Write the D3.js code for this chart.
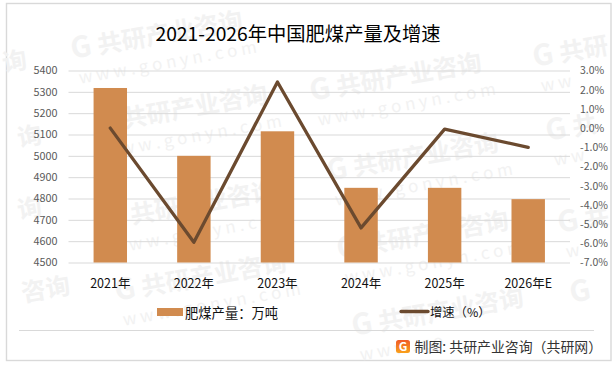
<!DOCTYPE html>
<html><head><meta charset="utf-8">
<script src="https://cdnjs.cloudflare.com/ajax/libs/d3/7.8.5/d3.min.js"></script>
<style>html,body{margin:0;padding:0;background:#fff}svg{display:block}text{font-family:"Noto Sans CJK SC","Noto Sans",sans-serif}</style>
</head><body><svg id="c" width="616" height="367"></svg>
<script>
const categories=["2021年","2022年","2023年","2024年","2025年","2026年E"];
const output=[5318,5000,5115,4850,4850,4797];
const growth=[0.0,-5.95,2.4,-5.2,-0.05,-1.0];
const leftTicks=[4500,4600,4700,4800,4900,5000,5100,5200,5300,5400];
const rightTicks=[-7,-6,-5,-4,-3,-2,-1,0,1,2,3];
const title="2021-2026年中国肥煤产量及增速";
const barName="肥煤产量：万吨", lineName="增速（%）", source="制图: 共研产业咨询（共研网）";
const wmBrand="共研产业咨询", wmSite="w w w . g o n y n . c o m";

const svg=d3.select("#c");
const L=68.5,R=570,T=70.5,B=262.5;
const x=d3.scaleBand().domain(categories).range([L,R]).paddingInner(0.6).paddingOuter(0.3);
const yL=d3.scaleLinear().domain([4500,5400]).range([B,T]);
const yR=d3.scaleLinear().domain([-7,3]).range([B,T]);

svg.append("rect").attr("x",6.5).attr("y",3.5).attr("width",604.5).attr("height",357).attr("fill","#fff").attr("stroke","#d9d9d9").attr("stroke-width",1.4);

// watermarks: full ones placed where the reference has them; ones at the edge use only the visible characters
const wm=svg.append("g");
function mark(px,py,chars,site,logo){
  const g=wm.append("g").attr("transform",`translate(${px},${py}) rotate(-10)`);
  if(logo) g.append("text").attr("x",-27).attr("y",0).attr("font-size",29).attr("font-weight",700).attr("fill","#f3f3f3").text("G");
  if(chars) g.append("text").attr("x",0).attr("y",0).attr("font-size",24.5).attr("font-weight",700).attr("fill","#f2f2f2").text(chars);
  if(site) g.append("text").attr("x",-24).attr("y",26).attr("font-size",17).attr("fill","#f2f2f2").text(site);
}
mark(99,54,wmBrand,wmSite,true);
mark(124,128,wmBrand,wmSite,true);
mark(338,96,wmBrand,wmSite,true);
mark(355,176,wmBrand,wmSite,true);
mark(132,224,wmBrand,wmSite,true);
mark(143,296,wmBrand,wmSite,true);
mark(365,254,wmBrand,wmSite,true);
mark(380,331,wmBrand,"w w w . g o",true);
mark(561,62,"共研","w w",true);
mark(574,136,"共","w w",true);
mark(586,228,"共","w",true);
mark(598,298,"","",true);
mark(4,72,"询","",false);
mark(19,147,"询","",false);
mark(19,219,"询","",false);
mark(23,302,"咨询","",false);

// grid
svg.append("g").attr("transform",`translate(${L},0)`)
 .call(d3.axisLeft(yL).tickValues(leftTicks).tickSize(-(R-L)).tickFormat(d=>d).tickPadding(11))
 .call(g=>g.select(".domain").remove())
 .call(g=>g.selectAll("line").attr("stroke","#d9d9d9"))
 .call(g=>g.selectAll("text").attr("fill","#595959").attr("font-size",10.8));

svg.append("g").selectAll("rect").data(output).join("rect")
 .attr("x",(d,i)=>x(categories[i])).attr("width",x.bandwidth())
 .attr("y",d=>yL(d)).attr("height",d=>B-yL(d)).attr("fill","#d18b4f");

const cx=i=>x(categories[i])+x.bandwidth()/2;
svg.append("path").datum(growth)
 .attr("d",d3.line().x((d,i)=>cx(i)).y(d=>yR(d)))
 .attr("fill","none").attr("stroke","#6b4a2f").attr("stroke-width",3.3).attr("stroke-linecap","round").attr("stroke-linejoin","round");

svg.append("g").attr("transform",`translate(${R},0)`)
 .call(d3.axisRight(yR).tickValues(rightTicks).tickSize(0).tickPadding(10).tickFormat(d=>d.toFixed(1)+"%"))
 .call(g=>g.select(".domain").remove())
 .call(g=>g.selectAll("text").attr("fill","#595959").attr("font-size",10.5));

svg.append("g").selectAll("text").data(categories).join("text")
 .attr("x",(d,i)=>cx(i)).attr("y",288).attr("text-anchor","middle").attr("font-size",12.5).attr("fill","#111").text(d=>d);

svg.append("text").attr("x",298).attr("y",41).attr("text-anchor","middle").attr("font-size",19.3).attr("fill","#000").text(title);

// legend
svg.append("rect").attr("x",157).attr("y",308).attr("width",26).attr("height",8).attr("fill","#d18b4f");
svg.append("text").attr("x",185).attr("y",317.5).attr("font-size",13.3).attr("fill","#111").text(barName);
svg.append("line").attr("x1",401).attr("x2",428).attr("y1",311.5).attr("y2",311.5).attr("stroke","#6b4a2f").attr("stroke-width",3.3).attr("stroke-linecap","round");
svg.append("text").attr("x",430).attr("y",316.5).attr("font-size",12.3).attr("fill","#111").text(lineName);

// footer
svg.append("line").attr("x1",19).attr("x2",594).attr("y1",330.5).attr("y2",330.5).attr("stroke","#d9d9d9").attr("stroke-width",1.2);
const defs=svg.append("defs").append("linearGradient").attr("id","lg").attr("x1",0).attr("y1",0).attr("x2",0).attr("y2",1);
defs.append("stop").attr("offset",0).attr("stop-color","#f05a28");
defs.append("stop").attr("offset",1).attr("stop-color","#f9a11b");
const lg=svg.append("g").attr("transform","translate(396,340)");
lg.append("rect").attr("width",14).attr("height",13).attr("rx",2.5).attr("fill","url(#lg)");
lg.append("text").attr("x",7).attr("y",11).attr("text-anchor","middle").attr("font-size",12).attr("font-weight",700).attr("fill","#fff").text("G");
svg.append("text").attr("x",414.5).attr("y",352).attr("font-size",13.9).attr("fill","#333").text(source);
</script></body></html>
